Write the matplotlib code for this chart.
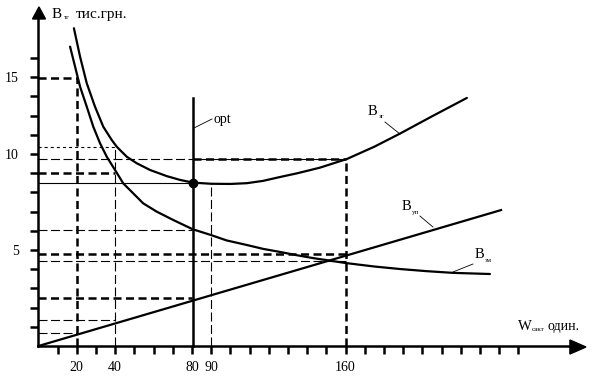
import matplotlib
matplotlib.use("Agg")
import matplotlib.pyplot as plt
from matplotlib.patches import Polygon

plt.rcParams['font.family'] = ['Liberation Serif', 'DejaVu Serif']
plt.rcParams['lines.scale_dashes'] = False

# total costs B_зг (thousand UAH) vs batch size W (units)
w_total = [18.5, 21.7, 25.2, 29.5, 33.8, 38.2, 40.8, 46.0, 51.2, 58.1, 66.8, 73.8,
           80.4, 89.9, 100.0, 108.6, 117.0, 125.8, 135.0, 146.7, 160.7, 175.0, 188.3,
           205.0, 223.2]
b_total = [16.55, 15.07, 13.68, 12.46, 11.42, 10.73, 10.38, 9.86, 9.52, 9.17, 8.85, 8.65,
           8.51, 8.45, 8.44, 8.48, 8.60, 8.80, 9.00, 9.29, 9.74, 10.38, 11.06,
           11.96, 12.92]

# setup costs B_зм
w_setup = [16.5, 19.1, 21.7, 25.2, 28.6, 32.1, 35.6, 39.9, 44.2, 49.4, 54.6, 61.6, 70.3,
           80.4, 89.9, 98.0, 108.6, 117.0, 125.8, 134.0, 143.0, 160.2, 175.0, 188.3,
           202.0, 215.9, 235.2]
b_setup = [15.59, 14.55, 13.51, 12.46, 11.42, 10.56, 9.86, 9.17, 8.47, 7.95, 7.43, 7.00, 6.56,
           6.08, 5.78, 5.50, 5.26, 5.06, 4.90, 4.74, 4.58, 4.32, 4.14, 4.01,
           3.90, 3.81, 3.75]

# holding costs B_уп (straight line)
w_hold = [0, 241]
b_hold = [0, 7.08]

w_opt, b_opt = 80.5, 8.47
opt_top = 12.9

# guide lines: (x_end, y) horizontal from the axis, and (x, y_top) verticals
h_thin = [(160, 9.72), (80, 6.04), (160, 4.43), (40, 1.35), (20, 0.66)]
h_thick = [(20, 13.97), (40, 8.99), (160, 4.79), (80, 2.52)]
h_dotted = [(40, 10.35)]
v_thin = [(40, 10.35), (90, 8.47)]
v_thick = [(20, 13.97), (160, 9.72)]

x_ticks = list(range(10, 260, 10))
x_labels = {20: '20', 40: '40', 80: '80', 90: '90', 160: '160'}
y_ticks = list(range(1, 16))
y_labels = {5: '5', 10: '10', 14: '15'}

fig = plt.figure(figsize=(5.98, 3.8), dpi=100)
ax = fig.add_axes([0, 0, 1, 1])
ax.set_xlim(-20, 291.5)
ax.set_ylim(-1.77, 18.02)


def px(x, y):
    return (x - 38.4) / 1.92, (346 - y) / 19.2


thick = dict(color='black', lw=1.8, linestyle=(0, (5.8, 3.2)))
thin = dict(color='black', lw=0.8, linestyle=(0, (6.5, 2.5)))
dotted = dict(color='black', lw=0.8, linestyle=(0, (2.2, 2.2)))

for xe, y in h_thin:
    ax.plot([0, xe], [y, y], **thin)
for xe, y in h_thick:
    ax.plot([0, xe], [y, y], **thick)
for xe, y in h_dotted:
    ax.plot([0, xe], [y, y], **dotted)
for x, yt in v_thin:
    ax.plot([x, x], [0, yt], **thin)
for x, yt in v_thick:
    ax.plot([x, x], [0, yt], **thick)
# upper part of the 9.72 line is heavier to the right of opt
ax.plot([w_opt, 160], [9.72, 9.72], **thick)
ax.plot([0, w_opt], [b_opt, b_opt], color='black', lw=0.8)

ax.plot(w_total, b_total, color='black', lw=1.6, solid_capstyle='round', solid_joinstyle='round')
ax.plot(w_setup, b_setup, color='black', lw=1.6, solid_capstyle='round', solid_joinstyle='round')
ax.plot(w_hold, b_hold, color='black', lw=1.6)
ax.plot([w_opt, w_opt], [0, opt_top], color='black', lw=1.8)
ax.plot([w_opt], [b_opt], 'o', color='black', ms=6)

# axes with arrows
for s in ['top', 'right']:
    ax.spines[s].set_visible(False)
ax.spines['left'].set_position(('data', 0))
ax.spines['bottom'].set_position(('data', 0))
ax.spines['left'].set_bounds(0, 17.3)
ax.spines['bottom'].set_bounds(0, 280)
ax.spines['left'].set_linewidth(1.8)
ax.spines['bottom'].set_linewidth(1.8)
ax.set_xticks(x_ticks)
ax.set_xticklabels([x_labels.get(t, '') for t in x_ticks])
ax.set_yticks(y_ticks)
ax.set_yticklabels([y_labels.get(t, '') for t in y_ticks])
ax.tick_params(direction='out', length=6, width=1.8, labelsize=10, pad=5)
ax.tick_params(axis='y', pad=8)

ax.add_patch(Polygon([px(39, 7), px(32.5, 19), px(45.5, 19)], closed=True, color='black'))
ax.add_patch(Polygon([px(586, 347), px(570, 340), px(570, 354)], closed=True, color='black'))

# axis titles
ax.text(*px(52, 18), 'B', fontsize=11, ha='left', va='baseline')
ax.text(*px(64, 19), 'тг', fontsize=5, ha='left', va='baseline')
ax.text(*px(76, 18), 'тис.грн.', fontsize=11, ha='left', va='baseline')
ax.text(*px(518, 330), 'W', fontsize=10.5, ha='left', va='baseline')
ax.text(*px(532, 331), 'сакт', fontsize=5, ha='left', va='baseline')
ax.text(*px(548, 330), 'один.', fontsize=10, ha='left', va='baseline')

# curve labels with leaders
ax.text(*px(214, 123), 'opt', fontsize=10, ha='left', va='baseline')
ax.plot(*zip(px(194, 128), px(212, 119)), color='black', lw=0.6)
ax.text(*px(368, 115), 'B', fontsize=10.5, ha='left', va='baseline')
ax.text(*px(379, 118), 'зг', fontsize=5, ha='left', va='baseline')
ax.plot(*zip(px(385, 122), px(400, 134)), color='black', lw=0.6)
ax.text(*px(402, 210), 'B', fontsize=10.5, ha='left', va='baseline')
ax.text(*px(412, 214), 'уп', fontsize=5, ha='left', va='baseline')
ax.plot(*zip(px(420, 216), px(433, 227)), color='black', lw=0.6)
ax.text(*px(475, 258), 'B', fontsize=10.5, ha='left', va='baseline')
ax.text(*px(485, 262), 'зм', fontsize=5, ha='left', va='baseline')
ax.plot(*zip(px(473, 264), px(453, 272)), color='black', lw=0.6)

fig.savefig('out.png', dpi=100)
